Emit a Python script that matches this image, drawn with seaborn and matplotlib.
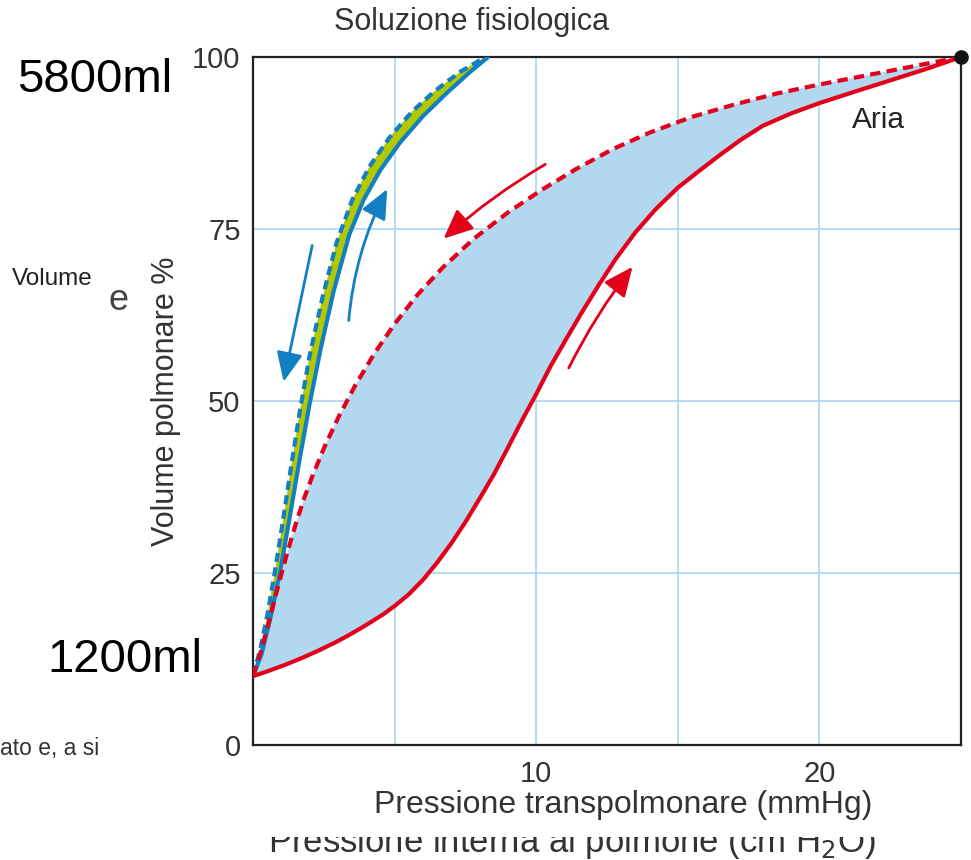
import numpy as np
import matplotlib
matplotlib.use("Agg")
import matplotlib.pyplot as plt
import seaborn as sns
from matplotlib.patches import Rectangle

# --- data ---
# air: inflation (solid) and deflation (dashed)
x_air_in = [0, 0.5, 1.1, 1.7, 2.3, 2.9, 3.4, 4.0, 4.6, 5.0, 5.5, 6.0, 6.5, 7.0, 7.5, 8.0, 8.5, 9.0, 9.5,
            10.0, 10.5, 11.0, 11.6, 12.2, 12.8, 13.5, 14.2, 15.0, 15.8, 16.5, 17.2, 18.0, 19.0, 20.0,
            21.2, 22.5, 23.8, 25]
y_air_in = [10, 10.7, 11.6, 12.6, 13.7, 14.9, 16.0, 17.45, 19.0, 20.2, 21.9, 24.0, 26.5, 29.3, 32.4, 35.8,
            39.3, 43.2, 47.2, 51.0, 55.0, 58.6, 62.8, 66.8, 70.6, 74.5, 77.8, 81.0, 83.6, 85.8, 87.9,
            90.0, 91.8, 93.3, 94.9, 96.6, 98.3, 100]
x_air_out = [0, 0.3, 0.6, 0.9, 1.2, 1.5, 1.8, 2.1, 2.5, 3.0, 3.6, 4.3, 5.0, 5.8, 6.7, 7.8, 9.0,
             10.2, 11.4, 12.7, 14.0, 15.5, 17.0, 18.5, 20.0, 22.5, 25]
y_air_out = [10, 13.9, 18.5, 23.3, 27.8, 32.0, 35.8, 39.1, 43.1, 47.5, 52.2, 57.0, 61.2, 65.4, 69.4,
             73.6, 77.4, 80.7, 83.7, 86.6, 89.0, 91.3, 93.1, 94.7, 96.0, 98.0, 100]
# saline: inflation (solid) and deflation (dashed)
x_sal_in = [0, 0.3, 0.6, 0.95, 1.3, 1.65, 2.0, 2.4, 2.85, 3.4, 3.9, 4.5, 5.2, 6.0, 6.8, 7.6, 8.3]
y_sal_in = [10, 13.2, 18.2, 25, 33.2, 41.6, 49.6, 57.8, 66.0, 74.2, 79.2, 83.6, 87.6, 91.4, 94.6, 97.6, 100]
x_sal_out = [0, 0.25, 0.5, 0.75, 1.05, 1.35, 1.65, 2.0, 2.45, 2.95, 3.5, 4.1, 4.8, 5.6, 6.4, 7.3, 8.2]
y_sal_out = [10, 13.8, 18.8, 24.6, 32.4, 40.6, 48.4, 56.6, 65.0, 73.0, 79.2, 84.0, 88.2, 92.0, 95.0, 97.8, 100]

y_ticks = [0, 25, 50, 75, 100]
x_grid = [5, 10, 15, 20]
x_tick_labels = ["", "10", "", "20"]

RED = "#e3001b"
BLUE = "#137fc3"
GREEN = "#b4c800"
FILL = "#b2d8ef"
GRID = "#a9d5f2"

sns.set_theme(style="white")
plt.rcParams["font.family"] = ["Liberation Sans", "DejaVu Sans"]

fig = plt.figure(figsize=(9.71, 8.60), dpi=100)
ax = fig.add_axes([253 / 971, 1 - 745 / 860, 708 / 971, 688 / 860])

# shaded hysteresis areas
ax.fill(x_air_out + x_air_in[::-1], y_air_out + y_air_in[::-1], color=FILL, lw=0, zorder=1)
ax.fill(x_sal_out + x_sal_in[::-1], y_sal_out + y_sal_in[::-1], color=GREEN, lw=0, zorder=2)

sns.lineplot(x=x_air_in, y=y_air_in, sort=False, estimator=None, color=RED, lw=3, ax=ax, zorder=4)
sns.lineplot(x=x_air_out, y=y_air_out, sort=False, estimator=None, color=RED, lw=3,
             linestyle=(0, (2.5, 1.5)), ax=ax, zorder=4)
sns.lineplot(x=x_sal_in, y=y_sal_in, sort=False, estimator=None, color=BLUE, lw=3, ax=ax, zorder=3)
sns.lineplot(x=x_sal_out, y=y_sal_out, sort=False, estimator=None, color=BLUE, lw=3,
             linestyle=(0, (2.2, 1.3)), ax=ax, zorder=3)

ax.scatter([x_air_in[-1]], [y_air_in[-1]], s=90, color="#111111", zorder=6, clip_on=False)

# direction arrows
arr = dict(arrowstyle="-|>,head_length=0.9,head_width=0.4", lw=2, mutation_scale=20, shrinkA=0, shrinkB=0)
ax.annotate("", xy=(1.08, 52.8), xytext=(2.09, 72.6),
            arrowprops=dict(arr, color=BLUE, connectionstyle="arc3,rad=0"))
ax.annotate("", xy=(4.74, 80.8), xytext=(3.38, 61.7),
            arrowprops=dict(arr, color=BLUE, connectionstyle="arc3,rad=-0.1"))
ax.annotate("", xy=(6.73, 73.6), xytext=(10.32, 84.4),
            arrowprops=dict(arr, color=RED, connectionstyle="arc3,rad=0.05"))
ax.annotate("", xy=(13.4, 69.5), xytext=(11.15, 54.8),
            arrowprops=dict(arr, color=RED, connectionstyle="arc3,rad=-0.05"))

ax.text(22.1, 90.9, "Aria", fontsize=21.5, color="#222222", ha="center", va="center")

ax.set_xlim(0, 25)
ax.set_ylim(0, 100)
ax.set_yticks(y_ticks)
ax.set_xticks(x_grid)
ax.set_xticklabels(x_tick_labels)
ax.grid(True, color=GRID, lw=1.2)
ax.set_axisbelow(True)
ax.tick_params(axis="both", length=0, labelsize=21, colors="#333333")
ax.tick_params(axis="y", pad=9)
ax.tick_params(axis="x", pad=11)
for s in ax.spines.values():
    s.set_color("#222222")
    s.set_linewidth(1.6)

ax.set_xlabel("Pressione transpolmonare (mmHg)", fontsize=23, color="#333333")
ax.set_ylabel("Volume polmonare %", fontsize=22, color="#333333")
ax.xaxis.set_label_coords(0.523, -0.066)
ax.yaxis.set_label_coords(-0.102, 0.5)

# texts around the chart
fig.text(472 / 971, 1 - 22 / 860, "Soluzione fisiologica", fontsize=22, color="#333333",
         ha="center", va="center")
fig.text(95 / 971, 1 - 80 / 860, "5800ml", fontsize=34, color="black", ha="center", va="center")
fig.text(125 / 971, 1 - 660 / 860, "1200ml", fontsize=34, color="black", ha="center", va="center")
fig.text(52 / 971, 1 - 279 / 860, "Volume", fontsize=17.5, color="#222222", ha="center", va="center")
fig.text(118 / 971, 1 - 301 / 860, "e", fontsize=26, color="#444444", ha="center", va="center")
fig.text(0, 1 - 748 / 860, "ato e, a si", fontsize=16.5, color="#333333", ha="left", va="center")

# cropped caption at the very bottom
fig.text(572 / 971, 1 - 852 / 860, "Pressione interna al polmone (cm H$_2$O)", fontsize=25,
         color="#333333", ha="center", va="baseline")
fig.patches.append(Rectangle((0.25, 1 - 837 / 860), 0.75, 14 / 860, transform=fig.transFigure,
                             facecolor="white", edgecolor="none", zorder=10))

fig.savefig("out.png", dpi=100)
